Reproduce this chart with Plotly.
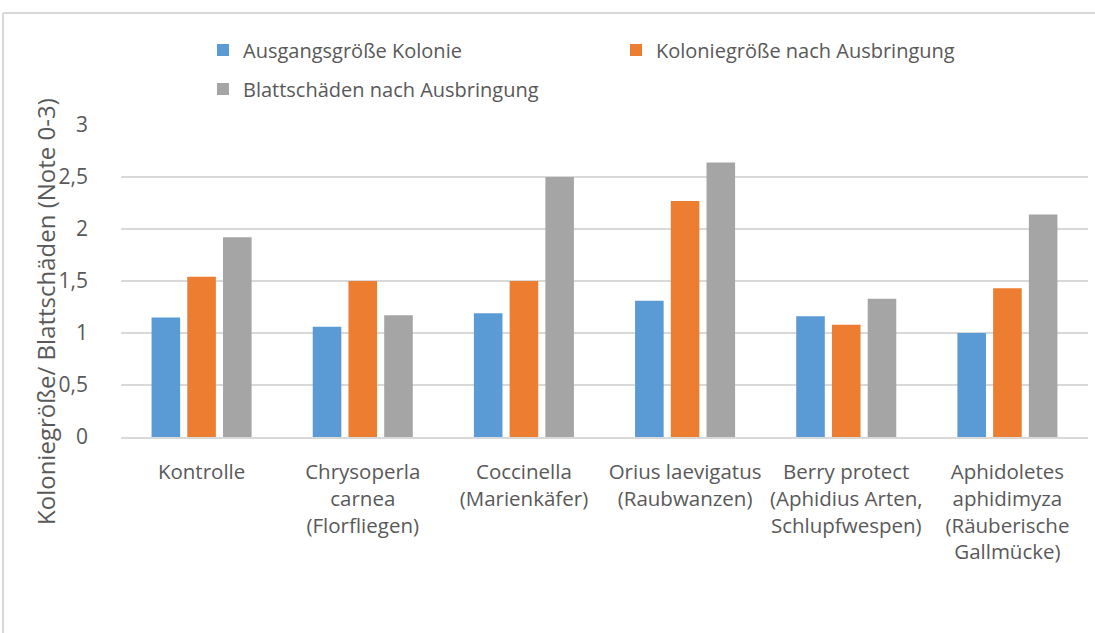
import plotly.graph_objects as go

categories = [
    "Kontrolle",
    "Chrysoperla<br>carnea<br>(Florfliegen)",
    "Coccinella<br>(Marienkäfer)",
    "Orius laevigatus<br>(Raubwanzen)",
    "Berry protect<br>(Aphidius Arten,<br>Schlupfwespen)",
    "Aphidoletes<br>aphidimyza<br>(Räuberische<br>Gallmücke)",
]
ausgang = [1.15, 1.06, 1.19, 1.31, 1.16, 1.00]
kolonie_nach = [1.54, 1.50, 1.50, 2.27, 1.08, 1.43]
blatt_nach = [1.92, 1.17, 2.50, 2.64, 1.33, 2.14]

series_names = [
    "Ausgangsgröße Kolonie",
    "Koloniegröße nach Ausbringung",
    "Blattschäden nach Ausbringung",
]
y_title = "Koloniegröße/ Blattschäden (Note 0-3)"

colors = ["#5B9BD5", "#ED7D31", "#A5A5A5"]
legends = ["legend", "legend", "legend2"]

W, H = 1095, 633
L, R, T, B = 121, 7, 125, 196
pw, ph = W - L - R, H - T - B


def px_x(x):
    # screen pixel -> paper coordinate
    return (x - L) / pw


def px_y(y):
    return (H - B - y) / ph


fig = go.Figure()
for name, vals, col, lg in zip(series_names, [ausgang, kolonie_nach, blatt_nach], colors, legends):
    fig.add_trace(go.Bar(
        x=categories, y=vals, name=name, legend=lg,
        marker=dict(color=col, line=dict(width=0)),
    ))

font_family = "Open Sans, Liberation Sans, sans-serif"
txt = "#595959"
grid = "#D9D9D9"

fig.update_layout(
    width=W, height=H,
    margin=dict(l=L, r=R, t=T, b=B),
    paper_bgcolor="white", plot_bgcolor="white",
    separators=", ",
    barmode="group", bargap=0.335, bargroupgap=0.2,
    font=dict(family=font_family, size=20, color=txt),
    showlegend=True,
    legend=dict(
        orientation="h", x=px_x(203), y=px_y(50), xanchor="left", yanchor="middle",
        entrywidth=368, entrywidthmode="pixels", itemwidth=30,
        font=dict(size=20, color=txt), bgcolor="rgba(0,0,0,0)",
    ),
    legend2=dict(
        orientation="h", x=px_x(203), y=px_y(89), xanchor="left", yanchor="middle",
        itemwidth=30, font=dict(size=20, color=txt), bgcolor="rgba(0,0,0,0)",
    ),
    xaxis=dict(
        showgrid=False, showline=True, linecolor=grid, linewidth=1.5,
        ticks="", tickfont=dict(size=20.5, color=txt), tickangle=0,
        ticklabelstandoff=16,
    ),
    yaxis=dict(
        range=[0, 3], dtick=0.5, showgrid=True, gridcolor=grid, gridwidth=1.5,
        zeroline=False, showline=False, ticks="", ticklabelstandoff=32,
        tickfont=dict(size=21, color=txt),
    ),
    annotations=[
        dict(text=y_title, xref="paper", yref="paper", x=px_x(45), y=px_y(312),
             xanchor="center", yanchor="middle", textangle=-90, showarrow=False,
             font=dict(size=24, color=txt)),
    ],
    shapes=[
        dict(type="line", xref="paper", yref="paper", x0=px_x(3), x1=px_x(W + 5),
             y0=px_y(13), y1=px_y(13), line=dict(color=grid, width=2)),
        dict(type="line", xref="paper", yref="paper", x0=px_x(3), x1=px_x(3),
             y0=px_y(13), y1=px_y(H + 5), line=dict(color=grid, width=2)),
    ],
)

# page body has a default 8px margin; drop it so the figure sits at the window origin
fig.write_html("out.html", config={"displayModeBar": False},
               post_script="document.body.style.margin='0';")
